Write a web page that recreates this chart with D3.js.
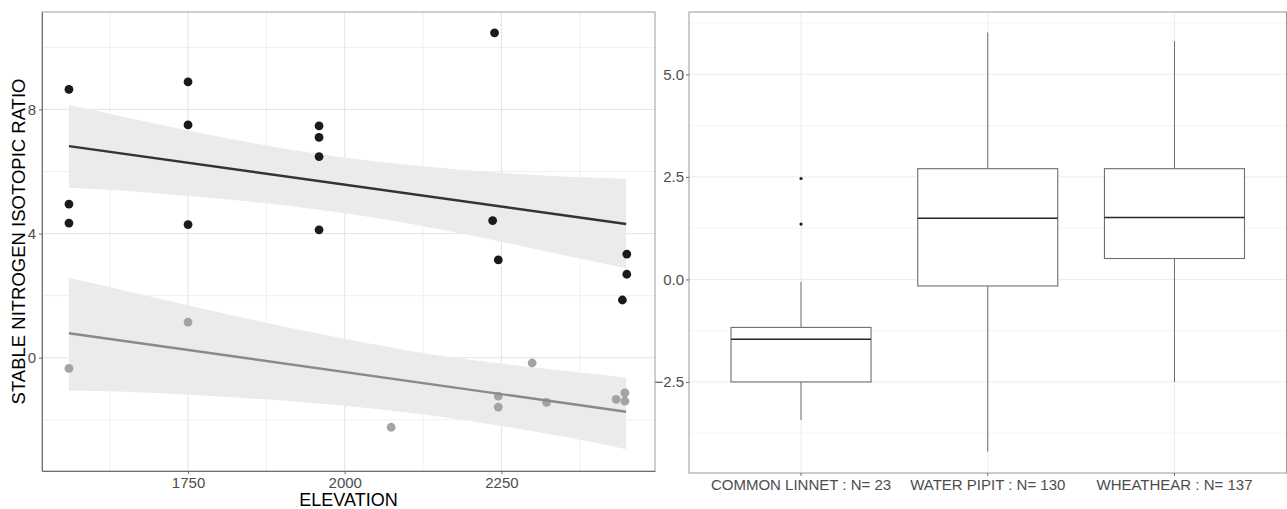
<!DOCTYPE html>
<html>
<head>
<meta charset="utf-8">
<script src="https://cdn.jsdelivr.net/npm/d3@7/dist/d3.min.js"></script>
<style>
  html, body { margin: 0; padding: 0; background: #fff; }
  svg { display: block; font-family: "Liberation Sans", Arial, sans-serif; }
</style>
</head>
<body>
<svg id="chart" width="1287" height="509"></svg>
<script>
// ---------- Left panel data (scatter + lm fits) ----------
const elevBlack  = [1560, 1560, 1560, 1750, 1750, 1750, 1959, 1959, 1959, 1959, 2239, 2236, 2245, 2450, 2450, 2443];
const ratioBlack = [8.65, 4.95, 4.34, 8.89, 7.50, 4.29, 7.47, 7.10, 6.48, 4.12, 10.47, 4.42, 3.15, 3.34, 2.69, 1.86];
const elevGrey   = [1560, 1750, 2074, 2299, 2245, 2245, 2322, 2433, 2447, 2447];
const ratioGrey  = [-0.34, 1.15, -2.24, -0.17, -1.24, -1.59, -1.44, -1.34, -1.13, -1.40];

const fitElev  = [1560, 2449];
const fitBlack = [6.82, 4.31];
const fitGrey  = [0.79, -1.74];

const bandElev       = [1560, 1650, 1750, 1850, 1950, 2050, 2150, 2250, 2350, 2449];
const bandBlackUpper = [8.14, 7.75, 7.32, 6.93, 6.59, 6.32, 6.12, 5.96, 5.84, 5.77];
const bandBlackLower = [5.48, 5.38, 5.21, 5.03, 4.79, 4.50, 4.14, 3.74, 3.30, 2.88];
const bandGreyUpper  = [2.58, 2.16, 1.69, 1.23, 0.81, 0.42, 0.07, -0.19, -0.42, -0.64];
const bandGreyLower  = [-1.06, -1.10, -1.19, -1.31, -1.46, -1.65, -1.89, -2.20, -2.55, -2.95];

const leftYTicks = [0, 4, 8];
const leftYMinor = [-2, 2, 6, 10];
const leftXTicks = [1750, 2000, 2250];
const leftXMinor = [1625, 1875, 2125, 2375];

// ---------- Right panel data (boxplots) ----------
const species     = ["COMMON LINNET : N= 23", "WATER PIPIT : N= 130", "WHEATHEAR : N= 137"];
const whiskerLow  = [-3.43, -4.20, -2.50];
const q1          = [-2.50, -0.16, 0.51];
const medians     = [-1.46, 1.49, 1.51];
const q3          = [-1.17, 2.70, 2.70];
const whiskerHigh = [-0.06, 6.02, 5.81];
const outlierSpecies = ["COMMON LINNET : N= 23", "COMMON LINNET : N= 23"];
const outlierValues  = [2.46, 1.35];

const rightYTicks = [-2.5, 0.0, 2.5, 5.0];
const rightYMinor = [-3.75, -1.25, 1.25, 3.75, 6.25];

// ---------- Layout ----------
const svg = d3.select("#chart");
const L = { x0: 42, x1: 655, y0: 12, y1: 471 };
const R = { x0: 689, x1: 1286.5, y0: 12, y1: 473 };
const tickColor = "#4d4d4d";
const tickFont = "15px";

// ===== Left panel =====
const xL = d3.scaleLinear().domain([1517, 2495]).range([L.x0, L.x1]);
const yL = d3.scaleLinear().domain([-3.65, 11.14]).range([L.y1, L.y0]);

const gL = svg.append("g");
gL.append("rect").attr("x", L.x0).attr("y", L.y0).attr("width", L.x1 - L.x0).attr("height", L.y1 - L.y0).attr("fill", "#fff");

// grid
gL.selectAll(".ymin").data(leftYMinor).enter().append("line")
  .attr("x1", L.x0).attr("x2", L.x1).attr("y1", d => yL(d)).attr("y2", d => yL(d))
  .attr("stroke", "#f0f0f0").attr("stroke-width", 1);
gL.selectAll(".xmin").data(leftXMinor).enter().append("line")
  .attr("y1", L.y0).attr("y2", L.y1).attr("x1", d => xL(d)).attr("x2", d => xL(d))
  .attr("stroke", "#f0f0f0").attr("stroke-width", 1);
gL.selectAll(".ymaj").data(leftYTicks).enter().append("line")
  .attr("x1", L.x0).attr("x2", L.x1).attr("y1", d => yL(d)).attr("y2", d => yL(d))
  .attr("stroke", "#e3e3e3").attr("stroke-width", 1);
gL.selectAll(".xmaj").data(leftXTicks).enter().append("line")
  .attr("y1", L.y0).attr("y2", L.y1).attr("x1", d => xL(d)).attr("x2", d => xL(d))
  .attr("stroke", "#e3e3e3").attr("stroke-width", 1);

// bands
const bandArea = (up, lo) => d3.area()
  .x((d, i) => xL(bandElev[i]))
  .y0((d, i) => yL(lo[i]))
  .y1((d, i) => yL(up[i]))
  .curve(d3.curveMonotoneX);
gL.append("path").datum(bandElev).attr("d", bandArea(bandBlackUpper, bandBlackLower)).attr("fill", "#ebebeb");
gL.append("path").datum(bandElev).attr("d", bandArea(bandGreyUpper, bandGreyLower)).attr("fill", "#ebebeb");

// points
gL.selectAll(".pb").data(elevBlack).enter().append("circle")
  .attr("cx", d => xL(d)).attr("cy", (d, i) => yL(ratioBlack[i])).attr("r", 4.4)
  .attr("fill", "#1a1a1a");
gL.selectAll(".pg").data(elevGrey).enter().append("circle")
  .attr("cx", d => xL(d)).attr("cy", (d, i) => yL(ratioGrey[i])).attr("r", 4.4)
  .attr("fill", "#a3a3a3");

// fit lines
const fitLine = vals => d3.line().x((d, i) => xL(fitElev[i])).y((d, i) => yL(vals[i]));
gL.append("path").datum(fitElev).attr("d", fitLine(fitBlack)).attr("fill", "none").attr("stroke", "#333333").attr("stroke-width", 2.4);
gL.append("path").datum(fitElev).attr("d", fitLine(fitGrey)).attr("fill", "none").attr("stroke", "#8a8a8a").attr("stroke-width", 2.4);

// border
gL.append("rect").attr("x", L.x0).attr("y", L.y0).attr("width", L.x1 - L.x0).attr("height", L.y1 - L.y0)
  .attr("fill", "none").attr("stroke", "#9e9e9e").attr("stroke-width", 1);

// axes
const axLy = gL.append("g").attr("transform", `translate(${L.x0},0)`)
  .call(d3.axisLeft(yL).tickValues(leftYTicks).tickFormat(d3.format("d")).tickSize(3).tickSizeOuter(0).tickPadding(3));
const axLx = gL.append("g").attr("transform", `translate(0,${L.y1})`)
  .call(d3.axisBottom(xL).tickValues(leftXTicks).tickFormat(d3.format("d")).tickSize(3).tickSizeOuter(0).tickPadding(3));
[axLy, axLx].forEach(a => {
  a.select(".domain").attr("stroke", "#6e6e6e");
  a.selectAll(".tick line").attr("stroke", "#6e6e6e");
  a.selectAll(".tick text").attr("fill", tickColor).style("font-size", tickFont).style("font-family", "'Liberation Sans', Arial, sans-serif");
});

gL.append("text").attr("x", (L.x0 + L.x1) / 2).attr("y", 506).attr("text-anchor", "middle")
  .style("font-size", "18px").attr("fill", "#000").text("ELEVATION");
gL.append("text").attr("transform", `translate(24.5,${(L.y0 + L.y1) / 2}) rotate(-90)`).attr("text-anchor", "middle")
  .style("font-size", "18.5px").attr("fill", "#000").text("STABLE NITROGEN ISOTOPIC RATIO");

// ===== Right panel =====
const xR = d3.scaleBand().domain(species).range([R.x0, R.x1]).paddingInner(0).paddingOuter(0.1);
const yR = d3.scaleLinear().domain([-4.72, 6.52]).range([R.y1, R.y0]);
const step = xR.step();
const boxW = step * 0.75;
const cx = s => xR(s) + xR.bandwidth() / 2;

const gR = svg.append("g");
gR.append("rect").attr("x", R.x0).attr("y", R.y0).attr("width", R.x1 - R.x0).attr("height", R.y1 - R.y0).attr("fill", "#fff");

gR.selectAll(".ymin").data(rightYMinor).enter().append("line")
  .attr("x1", R.x0).attr("x2", R.x1).attr("y1", d => yR(d)).attr("y2", d => yR(d))
  .attr("stroke", "#f4f4f4").attr("stroke-width", 1);
gR.selectAll(".ymaj").data(rightYTicks).enter().append("line")
  .attr("x1", R.x0).attr("x2", R.x1).attr("y1", d => yR(d)).attr("y2", d => yR(d))
  .attr("stroke", "#ececec").attr("stroke-width", 1);
gR.selectAll(".xmaj").data(species).enter().append("line")
  .attr("y1", R.y0).attr("y2", R.y1).attr("x1", d => cx(d)).attr("x2", d => cx(d))
  .attr("stroke", "#ececec").attr("stroke-width", 1);

// whiskers
gR.selectAll(".wl").data(species).enter().append("line")
  .attr("x1", d => cx(d)).attr("x2", d => cx(d))
  .attr("y1", (d, i) => yR(q1[i])).attr("y2", (d, i) => yR(whiskerLow[i]))
  .attr("stroke", "#6e6e6e").attr("stroke-width", 1);
gR.selectAll(".wh").data(species).enter().append("line")
  .attr("x1", d => cx(d)).attr("x2", d => cx(d))
  .attr("y1", (d, i) => yR(q3[i])).attr("y2", (d, i) => yR(whiskerHigh[i]))
  .attr("stroke", "#6e6e6e").attr("stroke-width", 1);
// boxes
gR.selectAll(".box").data(species).enter().append("rect")
  .attr("x", d => cx(d) - boxW / 2).attr("width", boxW)
  .attr("y", (d, i) => yR(q3[i])).attr("height", (d, i) => yR(q1[i]) - yR(q3[i]))
  .attr("fill", "#fff").attr("stroke", "#6e6e6e").attr("stroke-width", 1.1);
gR.selectAll(".med").data(species).enter().append("line")
  .attr("x1", d => cx(d) - boxW / 2).attr("x2", d => cx(d) + boxW / 2)
  .attr("y1", (d, i) => yR(medians[i])).attr("y2", (d, i) => yR(medians[i]))
  .attr("stroke", "#262626").attr("stroke-width", 1.4);
// outliers
gR.selectAll(".out").data(outlierValues).enter().append("circle")
  .attr("cx", (d, i) => cx(outlierSpecies[i])).attr("cy", d => yR(d)).attr("r", 1.6)
  .attr("fill", "#1a1a1a");

gR.append("rect").attr("x", R.x0).attr("y", R.y0).attr("width", R.x1 - R.x0).attr("height", R.y1 - R.y0)
  .attr("fill", "none").attr("stroke", "#9a9a9a").attr("stroke-width", 1);

const axRy = gR.append("g").attr("transform", `translate(${R.x0},0)`)
  .call(d3.axisLeft(yR).tickValues(rightYTicks).tickFormat(d3.format(".1f")).tickSize(3).tickSizeOuter(0).tickPadding(2));
const axRx = gR.append("g").attr("transform", `translate(0,${R.y1})`)
  .call(d3.axisBottom(xR).tickSize(3).tickSizeOuter(0).tickPadding(3));
[axRy, axRx].forEach(a => {
  a.select(".domain").remove();
  a.selectAll(".tick line").attr("stroke", "#6e6e6e");
  a.selectAll(".tick text").attr("fill", tickColor).style("font-size", tickFont).style("font-family", "'Liberation Sans', Arial, sans-serif");
});
</script>
</body>
</html>
